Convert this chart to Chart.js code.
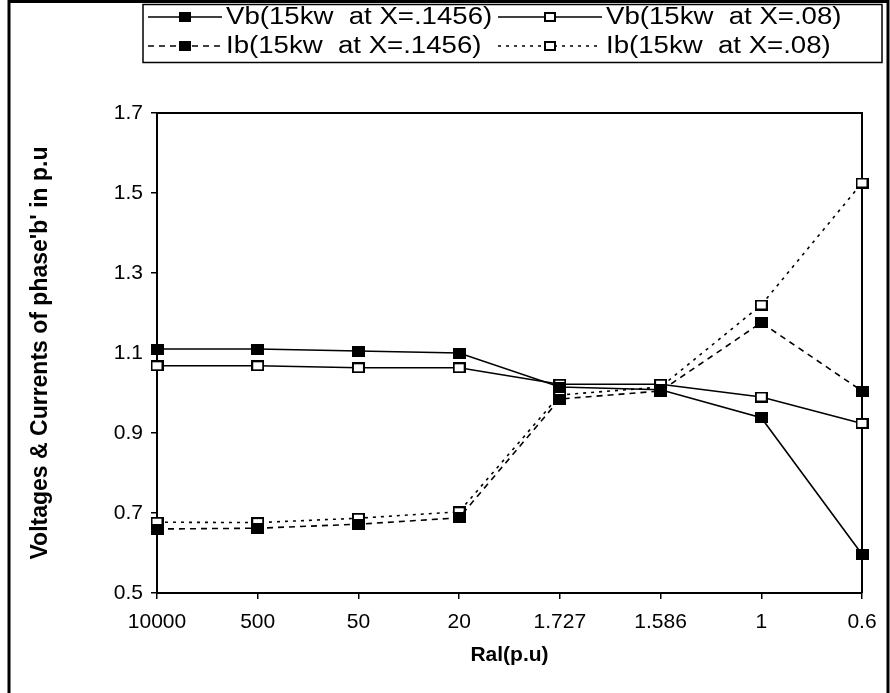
<!DOCTYPE html>
<html>
<head>
<meta charset="utf-8">
<script src="https://cdn.jsdelivr.net/npm/chart.js@4"></script>
<style>
  body { margin: 0; background: #fff; }
  canvas { display: block; }
</style>
</head>
<body>
<canvas id="myChart" width="890" height="693"></canvas>
<script>
// Ral(p.u) categories along the x axis
const categories = ["10000", "500", "50", "20", "1.727", "1.586", "1", "0.6"];

// series
const vbX1456 = [1.110, 1.110, 1.105, 1.100, 1.015, 1.008, 0.938, 0.597];
const vbX08 = [1.068, 1.068, 1.063, 1.063, 1.022, 1.022, 0.990, 0.924];
const ibX1456 = [0.660, 0.662, 0.672, 0.688, 0.985, 1.005, 1.176, 1.005];
const ibX08 = [0.677, 0.676, 0.687, 0.703, 0.995, 1.015, 1.220, 1.525];

const yTicks = [0.5, 0.7, 0.9, 1.1, 1.3, 1.5, 1.7];

const seriesNames = [
  "Vb(15kw  at X=.1456)",
  "Vb(15kw  at X=.08)",
  "Ib(15kw  at X=.1456)",
  "Ib(15kw  at X=.08)",
];

const FONT = "'Liberation Sans', Arial, sans-serif";

// square markers, a bit wider than tall like the original
function squareMarker(filled, w, h) {
  const c = document.createElement("canvas");
  c.width = w;
  c.height = h;
  const g = c.getContext("2d");
  g.fillStyle = "#000";
  g.fillRect(0, 0, w, h);
  if (!filled) {
    g.fillStyle = "#fff";
    g.fillRect(2, 2, w - 4, h - 4);
  }
  return c;
}
const filledMark = squareMarker(true, 13, 11);
const openMark = squareMarker(false, 13, 11);
const filledMarkSmall = squareMarker(true, 12, 10);
const openMarkSmall = squareMarker(false, 12, 10);

function makeSet(label, data, filled, dash) {
  return {
    label: label,
    data: data,
    borderColor: "#000",
    borderWidth: 1.6,
    borderDash: dash,
    backgroundColor: filled ? "#000" : "#fff",
    pointStyle: filled ? filledMark : openMark,
    legendMark: filled ? filledMarkSmall : openMarkSmall,
    pointRadius: 7,
    tension: 0,
    clip: false,
  };
}

// frame, plot box and the two-column legend
const decor = {
  id: "decor",
  beforeDatasetsDraw(chart) {
    const { ctx, chartArea: a } = chart;
    ctx.save();
    ctx.strokeStyle = "#000";
    ctx.lineWidth = 2;
    ctx.beginPath();
    ctx.moveTo(a.left, a.top);
    ctx.lineTo(a.right, a.top);
    ctx.lineTo(a.right, a.bottom);
    ctx.stroke();
    ctx.restore();
  },
  afterDraw(chart) {
    const ctx = chart.ctx;
    ctx.save();
    ctx.strokeStyle = "#000";
    ctx.lineWidth = 3;
    ctx.beginPath();
    ctx.moveTo(9, 700);
    ctx.lineTo(9, 1.5);
    ctx.lineTo(888, 1.5);
    ctx.lineTo(888, 700);
    ctx.stroke();

    // legend box
    ctx.lineWidth = 1.5;
    ctx.strokeRect(143, 4.5, 739, 58);

    const cols = [{ x: 148, len: 74 }, { x: 498, len: 104 }];
    const rows = [17, 46];
    chart.data.datasets.forEach((ds, i) => {
      const col = cols[i % 2];
      const x = col.x;
      const y = rows[Math.floor(i / 2)];
      ctx.strokeStyle = "#000";
      ctx.lineWidth = 1.5;
      ctx.setLineDash(ds.borderDash || []);
      ctx.beginPath();
      ctx.moveTo(x, y);
      ctx.lineTo(x + col.len, y);
      ctx.stroke();
      ctx.setLineDash([]);
      const m = ds.legendMark;
      ctx.drawImage(m, Math.round(x + col.len / 2 - m.width / 2), Math.round(y - m.height / 2));
      ctx.fillStyle = "#000";
      ctx.font = "23px " + FONT;
      ctx.textBaseline = "middle";
      ctx.textAlign = "left";
      ctx.save();
      ctx.translate(x + col.len + 4, y + 1);
      ctx.scale(1.2, 1);
      ctx.fillText(ds.label, 0, 0);
      ctx.restore();
    });
    ctx.restore();
  },
};

const ctx = document.getElementById("myChart").getContext("2d");
new Chart(ctx, {
  type: "line",
  data: {
    labels: categories,
    datasets: [
      makeSet(seriesNames[0], vbX1456, true, []),
      makeSet(seriesNames[1], vbX08, false, []),
      makeSet(seriesNames[2], ibX1456, true, [6, 5]),
      makeSet(seriesNames[3], ibX08, false, [3, 5]),
    ],
  },
  options: {
    responsive: false,
    animation: false,
    layout: { padding: { left: 0, top: 113, right: 28, bottom: 0 } },
    plugins: {
      legend: { display: false },
      tooltip: { enabled: false },
    },
    scales: {
      x: {
        type: "category",
        offset: false,
        grid: { drawOnChartArea: false, color: "#000", lineWidth: 1.5, tickLength: 6 },
        border: { color: "#000", width: 2 },
        ticks: { color: "#000", font: { family: FONT, size: 21 }, padding: 11, maxRotation: 0, autoSkip: false },
        title: {
          display: true,
          text: "Ral(p.u)",
          color: "#000",
          font: { family: FONT, size: 21, weight: "bold" },
          padding: { top: 0, bottom: 25 },
        },
        afterFit(scale) { scale.height = 100; },
      },
      y: {
        min: yTicks[0],
        max: yTicks[yTicks.length - 1],
        afterBuildTicks(scale) { scale.ticks = yTicks.map((v) => ({ value: v })); },
        grid: { drawOnChartArea: false, color: "#000", lineWidth: 1.5, tickLength: 6 },
        border: { color: "#000", width: 2 },
        ticks: {
          color: "#000",
          font: { family: FONT, size: 21 },
          padding: 8,
          callback: (v) => Number(v).toFixed(1),
        },
        title: {
          display: true,
          text: "Voltages & Currents of phase'b' in p.u",
          color: "#000",
          font: { family: FONT, size: 23, weight: "bold" },
          padding: { top: 27, bottom: 0 },
        },
        afterFit(scale) { scale.width = 157; },
      },
    },
  },
  plugins: [decor],
});
</script>
</body>
</html>
